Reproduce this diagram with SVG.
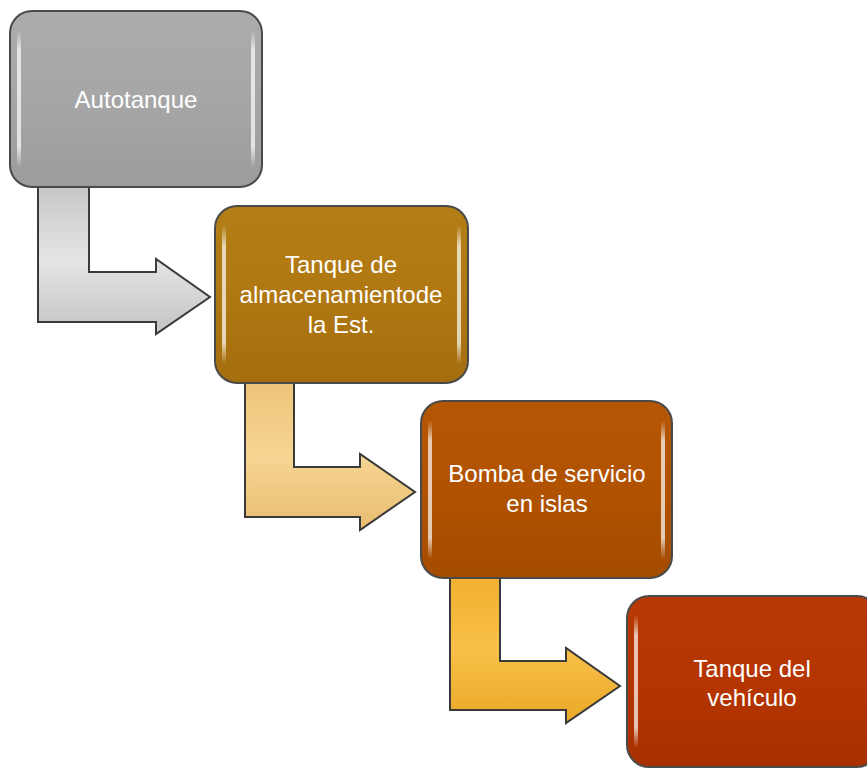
<svg xmlns="http://www.w3.org/2000/svg" width="867" height="770" viewBox="0 0 867 770">
  <defs>
    <linearGradient id="gGray" x1="0" y1="0" x2="0" y2="1">
      <stop offset="0" stop-color="#acacac"/>
      <stop offset="0.5" stop-color="#a6a6a6"/>
      <stop offset="1" stop-color="#9c9c9c"/>
    </linearGradient>
    <linearGradient id="gGold" x1="0" y1="0" x2="0" y2="1">
      <stop offset="0" stop-color="#b47e16"/>
      <stop offset="0.5" stop-color="#b07812"/>
      <stop offset="1" stop-color="#a46e0e"/>
    </linearGradient>
    <linearGradient id="gOrange" x1="0" y1="0" x2="0" y2="1">
      <stop offset="0" stop-color="#b45604"/>
      <stop offset="0.5" stop-color="#b05200"/>
      <stop offset="1" stop-color="#a44c00"/>
    </linearGradient>
    <linearGradient id="gRed" x1="0" y1="0" x2="0" y2="1">
      <stop offset="0" stop-color="#b83904"/>
      <stop offset="0.5" stop-color="#b53500"/>
      <stop offset="1" stop-color="#a83000"/>
    </linearGradient>
    <linearGradient id="aGray" x1="0" y1="0" x2="0" y2="1">
      <stop offset="0" stop-color="#c8c8c8"/>
      <stop offset="0.5" stop-color="#e4e4e4"/>
      <stop offset="1" stop-color="#c4c4c4"/>
    </linearGradient>
    <linearGradient id="aTan" x1="0" y1="0" x2="0" y2="1">
      <stop offset="0" stop-color="#eec47a"/>
      <stop offset="0.5" stop-color="#f6d592"/>
      <stop offset="1" stop-color="#e8bc70"/>
    </linearGradient>
    <linearGradient id="aYel" x1="0" y1="0" x2="0" y2="1">
      <stop offset="0" stop-color="#f2b030"/>
      <stop offset="0.5" stop-color="#f8c048"/>
      <stop offset="1" stop-color="#eaa828"/>
    </linearGradient>
    <linearGradient id="hl" x1="0" y1="0" x2="0" y2="1">
      <stop offset="0" stop-color="#ffffff" stop-opacity="0"/>
      <stop offset="0.15" stop-color="#ffffff" stop-opacity="0.7"/>
      <stop offset="0.85" stop-color="#ffffff" stop-opacity="0.7"/>
      <stop offset="1" stop-color="#ffffff" stop-opacity="0"/>
    </linearGradient>
  </defs>
  <style>
    .box { stroke: #4a4a4a; stroke-width: 2; }
    .arrow { stroke: #3a3a3a; stroke-width: 2; stroke-linejoin: miter; }
    .hl { fill: url(#hl); }
    .lbl { font-family: "Liberation Sans", Arial, sans-serif; font-size: 24px; fill: #ffffff; text-anchor: middle; }
  </style>

  <g id="connectors">
    <path class="arrow" fill="url(#aGray)" d="M38,187 L89,187 L89,272 L156,272 L156,259 L210,297 L156,334 L156,322 L38,322 Z"/>
    <path class="arrow" fill="url(#aTan)" d="M245,383 L294,383 L294,467 L360,467 L360,454 L415,492 L360,530 L360,517 L245,517 Z"/>
    <path class="arrow" fill="url(#aYel)" d="M450,577 L500,577 L500,661 L566,661 L566,648 L620,686 L566,723 L566,710 L450,710 Z"/>
  </g>

  <g id="autotanque">
    <rect class="box" x="10" y="11" width="252" height="176" rx="22" fill="url(#gGray)"/>
    <rect class="hl" x="17" y="30" width="4" height="138" rx="2"/>
    <rect class="hl" x="251" y="30" width="4" height="138" rx="2"/>
    <text class="lbl" x="136" y="108">Autotanque</text>
  </g>

  <g id="tanque-almacenamiento">
    <rect class="box" x="215" y="206" width="253" height="177" rx="22" fill="url(#gGold)"/>
    <rect class="hl" x="222" y="225" width="4" height="139" rx="2"/>
    <rect class="hl" x="457" y="225" width="4" height="139" rx="2"/>
    <text class="lbl" x="341" y="273">Tanque de</text>
    <text class="lbl" x="341" y="303">almacenamientode</text>
    <text class="lbl" x="341" y="333">la Est.</text>
  </g>

  <g id="bomba">
    <rect class="box" x="421" y="401" width="251" height="177" rx="22" fill="url(#gOrange)"/>
    <rect class="hl" x="428" y="420" width="4" height="139" rx="2"/>
    <rect class="hl" x="661" y="420" width="4" height="139" rx="2"/>
    <text class="lbl" x="547" y="482">Bomba de servicio</text>
    <text class="lbl" x="547" y="512">en islas</text>
  </g>

  <g id="tanque-vehiculo">
    <rect class="box" x="627" y="596" width="252" height="171" rx="22" fill="url(#gRed)"/>
    <rect class="hl" x="634" y="615" width="4" height="133" rx="2"/>
    <text class="lbl" x="752" y="677">Tanque del</text>
    <text class="lbl" x="752" y="706">vehículo</text>
  </g>
</svg>
